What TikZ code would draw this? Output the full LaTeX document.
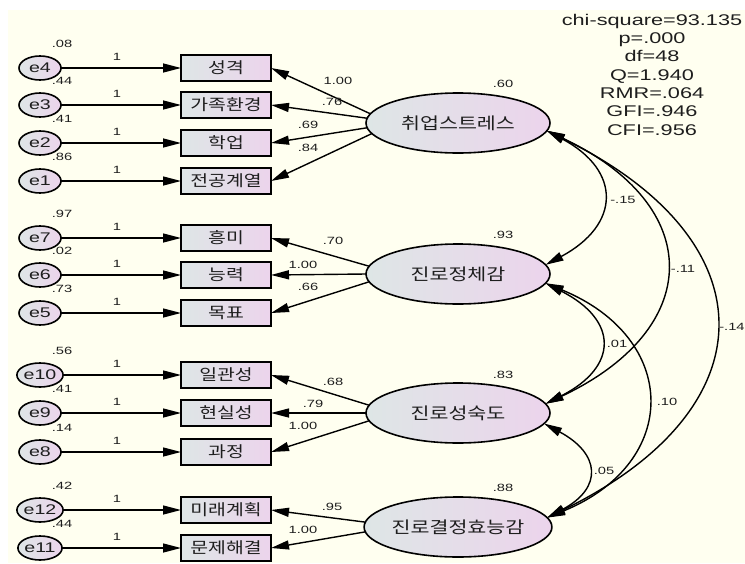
\documentclass[tikz,border=0pt]{standalone}
\usepackage{fontspec}
\setmainfont{Liberation Sans}[FakeStretch=1.4]
\newfontfamily\kr{Noto Sans CJK KR}[FakeStretch=1.25]
\usetikzlibrary{arrows.meta,shapes.geometric}
\definecolor{bgc}{RGB}{255,255,240}
\definecolor{fillL}{RGB}{222,230,230}
\definecolor{fillR}{RGB}{236,212,236}
\definecolor{ink}{RGB}{30,30,30}
\tikzset{
  err/.style={ellipse, draw, line width=1.6pt, minimum width=42pt, minimum height=24pt,
    inner sep=0pt, outer sep=0pt, left color=fillL, right color=fillR, text=ink,
    font=\fontsize{14}{14}\selectfont},
  obs/.style={rectangle, draw, line width=1.6pt, minimum width=90pt, minimum height=26pt,
    inner sep=0pt, outer sep=0pt, left color=fillL, right color=fillR, text=ink,
    font=\kr\fontsize{15.5}{15.5}\selectfont},
  lat/.style={ellipse, draw, line width=1.6pt, minimum width=184pt, minimum height=60pt,
    inner sep=0pt, outer sep=0pt, left color=fillL, right color=fillR, text=ink,
    font=\kr\fontsize{16.5}{16.5}\selectfont},
  lbl/.style={inner sep=0pt, text=ink, font=\fontsize{10.5}{10.5}\selectfont},
  stat/.style={inner sep=0pt, anchor=base, text=ink, font=\fontsize{15.5}{15.5}\selectfont},
  arr/.style={line width=1.4pt, -{Triangle[length=18pt,width=9pt]}},
  cov/.style={line width=1.4pt, {Triangle[length=18pt,width=9pt]}-{Triangle[length=18pt,width=9pt]}}
}
\begin{document}
\begin{tikzpicture}[x=1pt,y=-1pt]
\fill[white] (0,0) rectangle (745,563);
\useasboundingbox (0,0) rectangle (745,563);
\fill[bgc] (8,10) rectangle (745,563);

% indicators with errors
\foreach \n/\t/\y/\v in {4/성격/68/.08, 3/가족환경/105/.44, 2/학업/143/.41, 1/전공계열/181/.86,
  7/흥미/238/.97, 6/능력/275/.02, 5/목표/313/.73,
  10/일관성/375/.56, 9/현실성/413/.41, 8/과정/452/.14,
  12/미래계획/510/.42, 11/문제해결/548/.44}{
  \node[err] (e\n) at (40,\y) {e\n};
  \node[obs] (o\n) at (226,\y) {\t};
  \node[lbl] (v\n) at (62,{\y-24}) {\v};
  \node[lbl] (w\n) at (117,{\y-11}) {1};
  \draw[arr] (e\n) -- (o\n);
}

% latent variables
\node[lat] (L1) at (458,123) {취업스트레스};
\node[lat] (L2) at (458,274) {진로정체감};
\node[lat] (L3) at (458,413) {진로성숙도};
\node[lat] (L4) at (458,527) {진로결정효능감};

\node[lbl] (r1) at (503,84) {.60};
\node[lbl] (r2) at (503,235) {.93};
\node[lbl] (r3) at (503,375) {.83};
\node[lbl] (r4) at (503,488) {.88};

% loadings
\draw[arr] (L1.174) -- (o4.east);
\draw[arr] (L1.177) -- (o3.east);
\draw[arr] (L1.183) -- (o2.east);
\draw[arr] (L1.187) -- (o1.east);
\node[lbl] (k4) at (338,81) {1.00};
\node[lbl] (k3) at (332,102) {.76};
\node[lbl] (k2) at (308,125) {.69};
\node[lbl] (k1) at (308,148) {.84};

\draw[arr] (L2.175) -- (o7.east);
\draw[arr] (L2.180) -- (o6.east);
\draw[arr] (L2.185) -- (o5.east);
\node[lbl] (k7) at (333,241) {.70};
\node[lbl] (k6) at (303,265) {1.00};
\node[lbl] (k5) at (308,287) {.66};

\draw[arr] (L3.175) -- (o10.east);
\draw[arr] (L3.180) -- (o9.east);
\draw[arr] (L3.185) -- (o8.east);
\node[lbl] (k10) at (333,382) {.68};
\node[lbl] (k9) at (313,404) {.79};
\node[lbl] (k8) at (303,426) {1.00};

\draw[arr] (L4.177) -- (o12.east);
\draw[arr] (L4.183) -- (o11.east);
\node[lbl] (k12) at (332,507) {.95};
\node[lbl] (k11) at (303,530) {1.00};

% covariances
\draw[cov] (L1.-5) .. controls +(75,40) and +(75,-40) .. (L2.6);
\draw[cov] (L1.-5) .. controls +(159,75) and +(159,-75) .. (L3.6);
\draw[cov] (L1.-5) .. controls +(224,109) and +(224,-109) .. (L4.6);
\draw[cov] (L2.-6) .. controls +(73,37) and +(73,-37) .. (L3.6);
\draw[cov] (L2.-6) .. controls +(134,55) and +(134,-55) .. (L4.6);
\draw[cov] (L3.-7) .. controls +(56,30) and +(56,-30) .. (L4.6);
\node[lbl] (c12) at (623,200) {-.15};
\node[lbl] (c13) at (683,269) {-.11};
\node[lbl] (c14) at (732,327) {-.14};
\node[lbl] (c23) at (617,344) {.01};
\node[lbl] (c24) at (667,402) {.10};
\node[lbl] (c34) at (604,471) {.05};

% fit statistics
\node[stat] (s1) at (652,25) {chi-square=93.135};
\node[stat] (s2) at (652,43.3) {p=.000};
\node[stat] (s3) at (652,61.7) {df=48};
\node[stat] (s4) at (652,80) {Q=1.940};
\node[stat] (s5) at (652,98.3) {RMR=.064};
\node[stat] (s6) at (652,116.7) {GFI=.946};
\node[stat] (s7) at (652,135) {CFI=.956};
\end{tikzpicture}
\end{document}
